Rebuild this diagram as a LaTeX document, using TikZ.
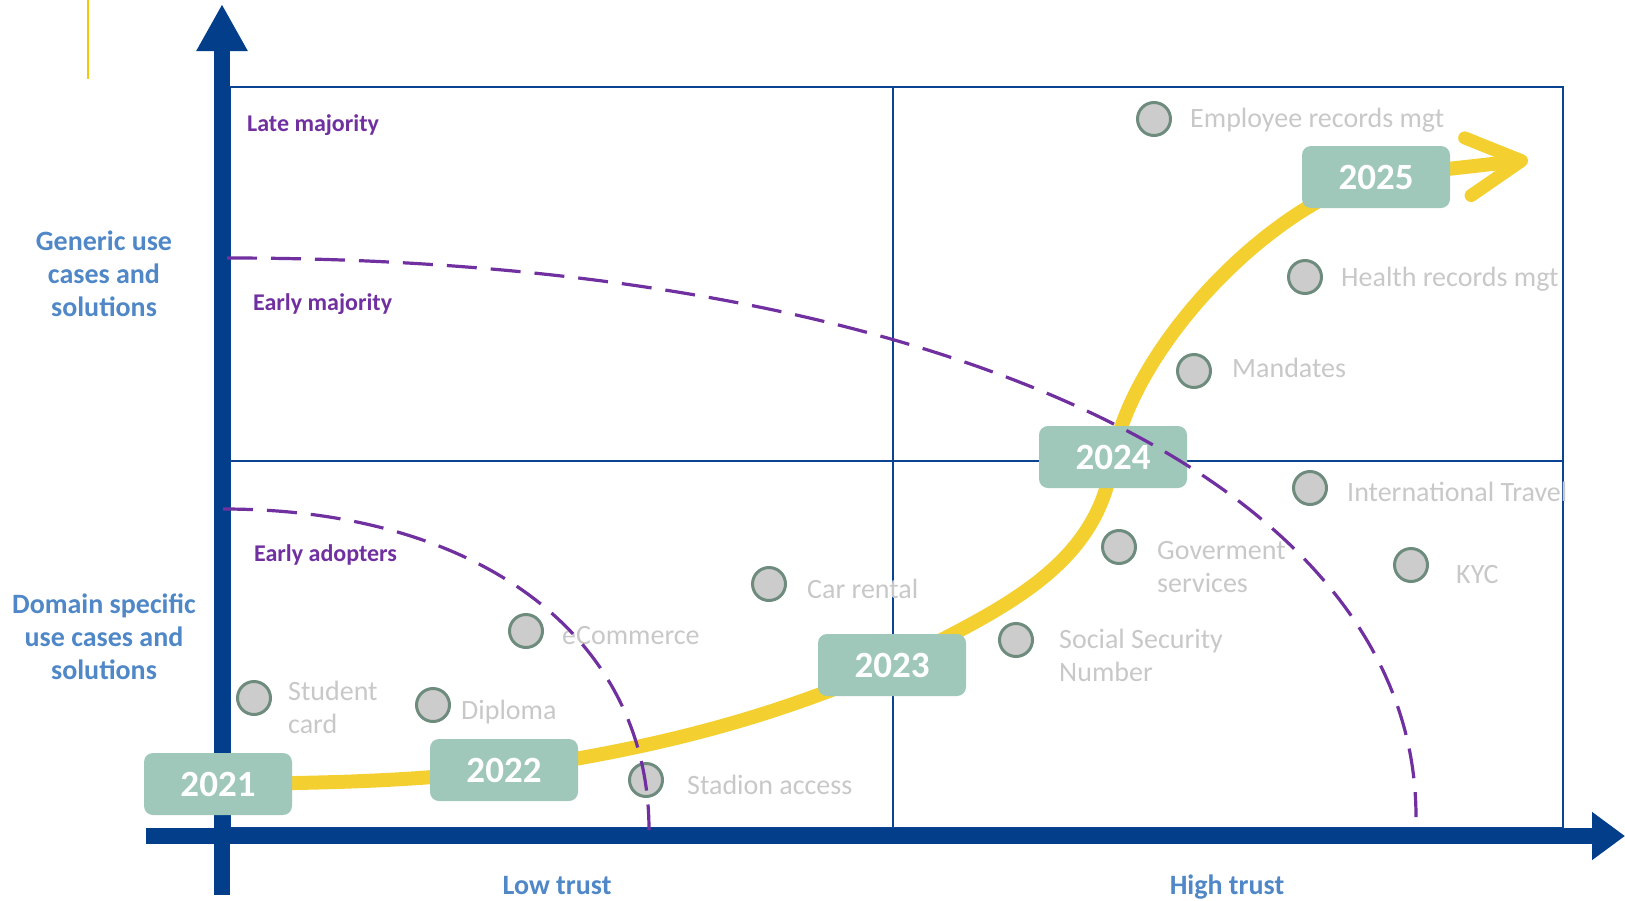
\documentclass[tikz,border=0pt]{standalone}
\usepackage{fontspec}
\setmainfont{Carlito}
\usetikzlibrary{arrows.meta, backgrounds}
\definecolor{axisblue}{HTML}{023E8A}
\definecolor{gridblue}{HTML}{0B4393}
\definecolor{labelblue}{HTML}{4F87C7}
\definecolor{phasepurple}{HTML}{7030A0}
\definecolor{trackyellow}{HTML}{F3D02F}
\definecolor{markyellow}{HTML}{F2C80F}
\definecolor{yearmint}{HTML}{A0C8BA}
\definecolor{casefill}{HTML}{CCCCCC}
\definecolor{caseedge}{HTML}{6E8C7D}
\definecolor{casetext}{HTML}{C8C8C8}

\begin{document}
\begin{tikzpicture}[
  x=1pt, y=-1pt,
  axislbl/.style={font=\fontsize{28}{33}\selectfont\bfseries, text=labelblue, align=center, inner sep=0pt},
  phase/.style={font=\fontsize{24}{28}\selectfont\bfseries, text=phasepurple, anchor=base west, inner sep=0pt},
  year/.style={rectangle, rounded corners=9pt, fill=yearmint, text=white, minimum width=148pt, minimum height=62pt, font=\fontsize{37}{40}\selectfont\bfseries},
  usecase/.style={circle, draw=caseedge, fill=casefill, line width=3pt, minimum size=33pt, inner sep=0pt},
  caselbl/.style={font=\fontsize{28}{33}\selectfont, text=casetext, anchor=base west, align=left, inner sep=0pt},
  axisln/.style={line width=16pt, axisblue},
  gridln/.style={line width=2.6pt, gridblue},
  boundary/.style={phasepurple, line width=3.2pt, dash pattern=on 30pt off 14pt},
  track/.style={trackyellow, line width=14pt},
]
\useasboundingbox (0,0) rectangle (1625,900);

% small marker top left
\draw[markyellow, line width=2.5pt] (88,0) -- (88,79);

% axis captions
\node[axislbl] (generic) at (104,274) {Generic use\\cases and\\solutions};
\node[axislbl] (domain) at (104,637) {Domain specific\\use cases and\\solutions};
\node[axislbl, anchor=base] (lowtrust) at (557,894) {Low trust};
\node[axislbl, anchor=base] (hightrust) at (1227,894) {High trust};

% adoption phases
\node[phase] (late) at (247,131) {Late majority};
\node[phase] (earlymaj) at (253,310) {Early majority};
\node[phase] (earlyadopt) at (254,561) {Early adopters};

% year markers
\node[year] (y2021) at (218,784) {2021};
\node[year] (y2022) at (504,770) {2022};
\node[year] (y2023) at (892,665) {2023};
\node[year] (y2024) at (1113,457) {2024};
\node[year] (y2025) at (1376,177) {2025};
\coordinate (ytip) at (1528,160);

% use cases (two-line labels sit on the baseline of their last line)
\node[usecase] (stud) at (254,698) {};
\node[caselbl] (stud-l) at (288,733) {Student\\card};
\node[usecase] (dipl) at (433,705) {};
\node[caselbl] (dipl-l) at (461,719) {Diploma};
\node[usecase] (ecom) at (526,631) {};
\node[caselbl] (ecom-l) at (562,644) {eCommerce};
\node[usecase] (stad) at (646,780) {};
\node[caselbl] (stad-l) at (687,794) {Stadion access};
\node[usecase] (car) at (769,584) {};
\node[caselbl] (car-l) at (807,598) {Car rental};
\node[usecase] (ssn) at (1016,640) {};
\node[caselbl] (ssn-l) at (1059,681) {Social Security\\Number};
\node[usecase] (gov) at (1119,547) {};
\node[caselbl] (gov-l) at (1157,592) {Goverment\\services};
\node[usecase] (intl) at (1310,488) {};
\node[caselbl] (intl-l) at (1347,501) {International Travel};
\node[usecase] (kyc) at (1411,565) {};
\node[caselbl] (kyc-l) at (1456,583) {KYC};
\node[usecase] (mand) at (1194,371) {};
\node[caselbl] (mand-l) at (1232,377) {Mandates};
\node[usecase] (health) at (1305,277) {};
\node[caselbl] (health-l) at (1341,286) {Health records mgt};
\node[usecase] (empl) at (1154,119) {};
\node[caselbl] (empl-l) at (1190,127) {Employee records mgt};

\begin{pgfonlayer}{background}
  % quadrants
  \draw[gridln] (230,87) rectangle (1563,828);
  \draw[gridln] (230,461) -- (1563,461);
  \draw[gridln] (893,87) -- (893,828);
  % axes
  \draw[axisln, -{Triangle[length=47pt, width=48pt]}] (222,895) -- (222,4);
  \draw[axisln, -{Triangle[length=33pt, width=46pt]}] (146,836) -- (1625,836);
  % adoption track
  \draw[track] (y2021.center) .. controls +(100,-1) and +(-100,12) .. (y2022.center)
    .. controls +(130,-18) and +(-130,58) .. (y2023.center)
    .. controls +(110,-56) and +(-14,110) .. (y2024.center)
    .. controls +(22,-113) and +(-106,28) .. (y2025.center);
  \draw[track, -{Straight Barb[length=54pt, width=58pt, line width=13pt, round]}] (y2025.center) -- (ytip);
\end{pgfonlayer}

% phase boundaries
\draw[boundary] (223,509) .. controls (479,509) and (649,637) .. (649,830);
\draw[boundary] (227,258) .. controls (940,258) and (1416,482) .. (1416,817);

\end{tikzpicture}
\end{document}
